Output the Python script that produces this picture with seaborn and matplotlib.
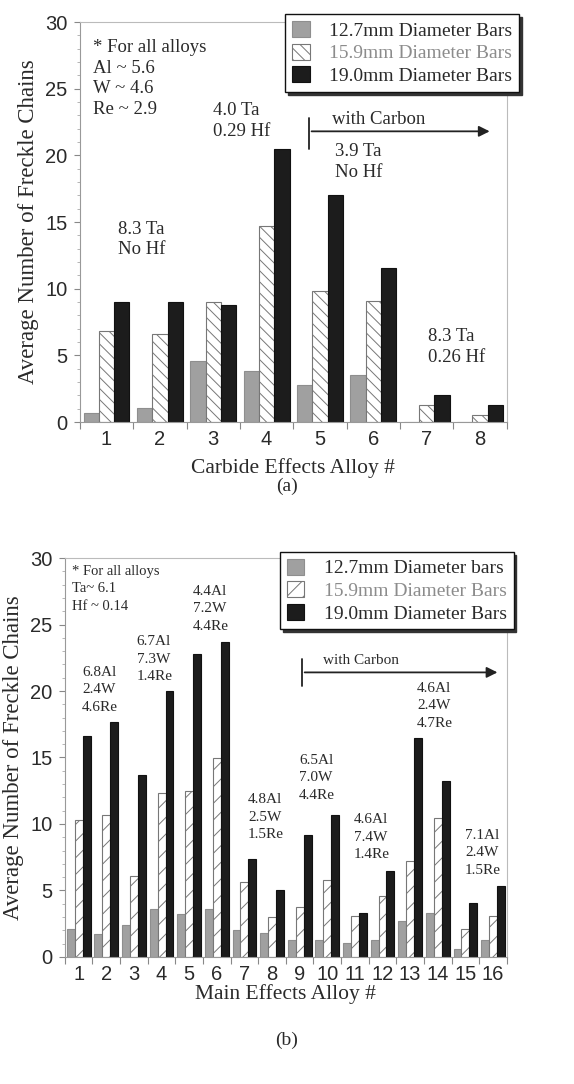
import numpy as np
import pandas as pd
import matplotlib
matplotlib.use("Agg")
import matplotlib.pyplot as plt
import seaborn as sns

sns.set_style("ticks")
plt.rcParams['font.family'] = ['Liberation Serif', 'DejaVu Serif']
plt.rcParams['hatch.linewidth'] = 0.7

# (a) Carbide effects alloys
alloys_a = [1, 2, 3, 4, 5, 6, 7, 8]
bars127_a = [0.68, 1.05, 4.6, 3.8, 2.8, 3.55, 0, 0]
bars159_a = [6.8, 6.6, 9.0, 14.7, 9.8, 9.05, 1.3, 0.55]
bars190_a = [9.0, 9.0, 8.75, 20.5, 17.0, 11.55, 2.0, 1.28]
labels_a = ['12.7mm Diameter Bars', '15.9mm Diameter Bars', '19.0mm Diameter Bars']

# (b) Main effects alloys
alloys_b = list(range(1, 17))
bars127_b = [2.1, 1.75, 2.4, 3.6, 3.2, 3.6, 2.0, 1.8, 1.25, 1.25, 1.05, 1.3, 2.7, 3.3, 0.6, 1.3]
bars159_b = [10.3, 10.7, 6.1, 12.35, 12.5, 14.95, 5.6, 3.0, 3.75, 5.8, 3.05, 4.6, 7.2, 10.45, 2.1, 3.05]
bars190_b = [16.65, 17.65, 13.65, 20.0, 22.8, 23.7, 7.4, 5.0, 9.2, 10.7, 3.3, 6.45, 16.45, 13.2, 4.05, 5.3]
labels_b = ['12.7mm Diameter bars', '15.9mm Diameter Bars', '19.0mm Diameter Bars']

TXT = '#2a2a2a'
fills = ['#a0a0a0', 'white', '#1c1c1c']
edges = ['#8e8e8e', '#777777', '#111111']


def long_table(alloys, series, labels):
    rows = []
    for lab, vals in zip(labels, series):
        for a, v in zip(alloys, vals):
            rows.append({'alloy': str(a), 'size': lab, 'value': v})
    return pd.DataFrame(rows)


def draw(ax, df, labels, hatch, ylabel, xlabel, n, xpad):
    sns.barplot(data=df, x='alloy', y='value', hue='size', hue_order=labels,
                palette=fills, width=0.86, linewidth=0.8, ax=ax, errorbar=None)
    for cont, ec, i in zip(ax.containers, edges, range(3)):
        for p in cont:
            p.set_edgecolor(ec)
            if i == 1:
                p.set_hatch(hatch)
    ax.get_legend().remove()
    ax.set_xlim(-0.5, n - 0.5)
    ax.set_ylim(0, 30)
    ax.set_yticks([0, 5, 10, 15, 20, 25, 30])
    ax.set_yticks(np.arange(0, 31, 1), minor=True)
    ax.set_xticks(np.arange(-0.5, n, 1), minor=True)
    ax.tick_params(axis='x', which='major', length=0, pad=6)
    ax.tick_params(axis='x', which='minor', length=5, color='#888888', width=0.8)
    ax.tick_params(axis='y', which='major', length=4, color='#888888', pad=5)
    ax.tick_params(axis='y', which='minor', length=2.5, color='#aaaaaa')
    for lab in ax.get_xticklabels() + ax.get_yticklabels():
        lab.set_fontfamily('Liberation Sans')
        lab.set_fontsize(14.5)
        lab.set_color(TXT)
    for s in ax.spines.values():
        s.set_visible(True)
        s.set_color('#bbbbbb')
        s.set_linewidth(0.8)
    ax.spines['left'].set_color('#999999')
    ax.spines['bottom'].set_color('#999999')
    ax.set_ylabel(ylabel, fontsize=16.5, color=TXT, labelpad=4)
    ax.set_xlabel(xlabel, fontsize=15.5, color=TXT, labelpad=xpad)


def legend(ax, labels, anchor):
    leg = ax.legend(ax.containers, labels, loc='upper left', bbox_to_anchor=anchor,
                    bbox_transform=fig.transFigure, fontsize=14, frameon=True,
                    fancybox=False, edgecolor='#111111', labelspacing=0.2,
                    handlelength=0.9, handleheight=0.9, handletextpad=1.0,
                    borderpad=0.35, borderaxespad=0,
                    shadow={'color': '#333333', 'alpha': 1})
    leg.get_frame().set_linewidth(1.0)
    for t, c in zip(leg.get_texts(), [TXT, '#8c8c8c', TXT]):
        t.set_color(c)


fig = plt.figure(figsize=(5.74, 10.84), dpi=100)
ax1 = fig.add_axes([0.139, 0.6107, 0.744, 0.369])
ax2 = fig.add_axes([0.113, 0.1172, 0.770, 0.368])

df_a = long_table(alloys_a, [bars127_a, bars159_a, bars190_a], labels_a)
df_b = long_table(alloys_b, [bars127_b, bars159_b, bars190_b], labels_b)

draw(ax1, df_a, labels_a, '\\\\\\', 'Average Number of Freckle Chains', 'Carbide Effects Alloy #', 8, 6)
draw(ax2, df_b, labels_b, '//', 'Average Number of Freckle Chains', 'Main Effects Alloy #', 16, 0)
legend(ax1, labels_a, (0.497, 0.987))
legend(ax2, labels_b, (0.488, 0.491))

# annotations, panel (a)  (x positions relative to bar category index)
ax1.text(-0.26, 28.7, '* For all alloys\nAl ~ 5.6\nW ~ 4.6\nRe ~ 2.9', fontsize=13.5,
         color=TXT, va='top', linespacing=1.27)
ax1.text(1.99, 24.0, '4.0 Ta\n0.29 Hf', fontsize=13.5, color=TXT, va='top', linespacing=1.27)
ax1.text(4.28, 20.9, '3.9 Ta\nNo Hf', fontsize=13.5, color=TXT, va='top', linespacing=1.27)
ax1.text(0.21, 15.1, '8.3 Ta\nNo Hf', fontsize=13.5, color=TXT, va='top', linespacing=1.27)
ax1.text(6.02, 7.05, '8.3 Ta\n0.26 Hf', fontsize=13.5, color=TXT, va='top', linespacing=1.27)
ax1.text(4.22, 22.7, 'with Carbon', fontsize=13.5, color=TXT, va='center')
ax1.annotate('', xy=(7.23, 21.8), xytext=(3.79, 21.8),
             arrowprops=dict(arrowstyle='-|>', color='#222222', lw=1.3, mutation_scale=16))
ax1.plot([3.79, 3.79], [20.5, 22.8], color='#222222', lw=1.3)

# annotations, panel (b)
ax2.text(-0.25, 29.5, '* For all alloys\nTa~ 6.1\nHf ~ 0.14', fontsize=10.5,
         color=TXT, va='top', linespacing=1.45)
notes_b = [(0.12, 21.9, '6.8Al\n2.4W\n4.6Re'), (2.1, 24.2, '6.7Al\n7.3W\n1.4Re'),
           (4.14, 28.0, '4.4Al\n7.2W\n4.4Re'), (6.13, 12.3, '4.8Al\n2.5W\n1.5Re'),
           (7.98, 15.3, '6.5Al\n7.0W\n4.4Re'), (9.95, 10.8, '4.6Al\n7.4W\n1.4Re'),
           (12.25, 20.7, '4.6Al\n2.4W\n4.7Re'), (13.99, 9.65, '7.1Al\n2.4W\n1.5Re')]
for x, y, s in notes_b:
    ax2.text(x, y, s, fontsize=11, color=TXT, va='top', linespacing=1.45)
ax2.text(8.85, 22.3, 'with Carbon', fontsize=11, color=TXT, va='center')
ax2.annotate('', xy=(15.26, 21.4), xytext=(8.08, 21.4),
             arrowprops=dict(arrowstyle='-|>', color='#222222', lw=1.3, mutation_scale=16))
ax2.plot([8.08, 8.08], [20.4, 22.4], color='#222222', lw=1.3)

fig.text(0.5, 1 - 486 / 1084, '(a)', ha='center', va='center', fontsize=14, color=TXT)
fig.text(0.5, 1 - 1040 / 1084, '(b)', ha='center', va='center', fontsize=14, color=TXT)

fig.savefig('out.png', dpi=100)
